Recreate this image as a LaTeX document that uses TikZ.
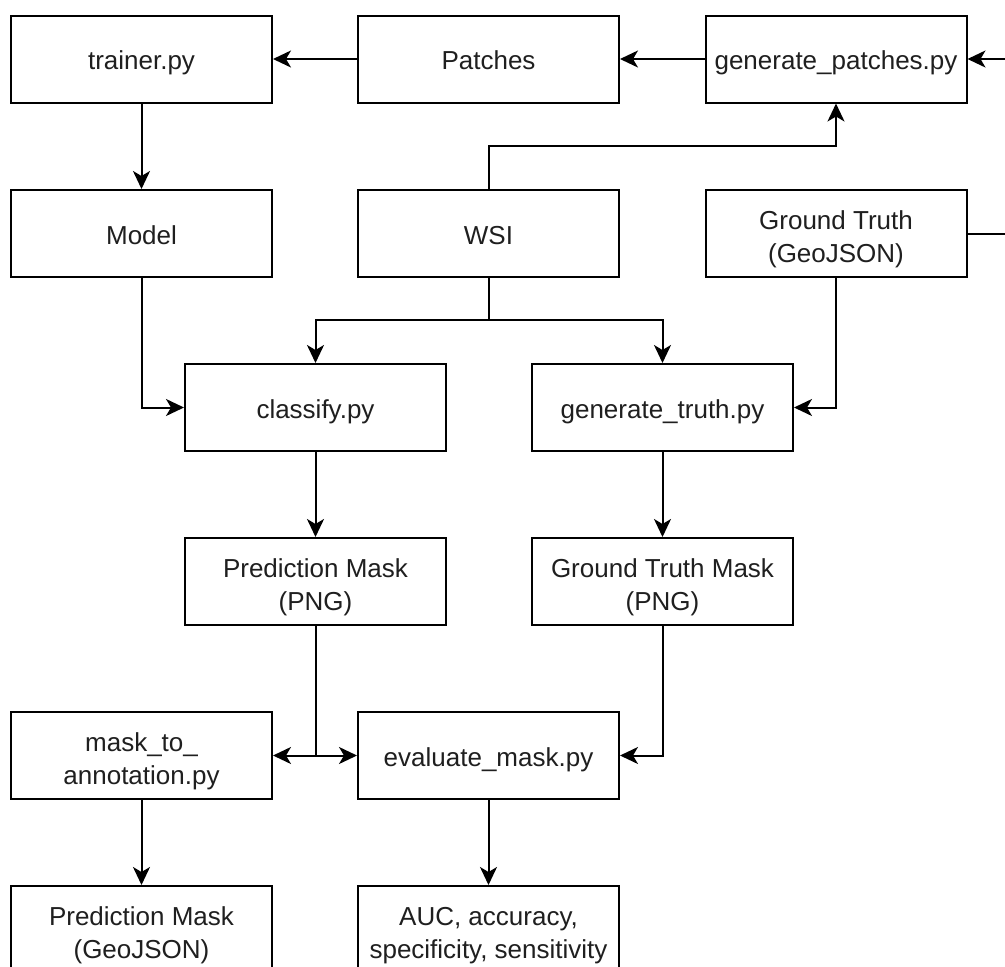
\documentclass[tikz,border=0pt]{standalone}
\usepackage{fontspec}
\setmainfont{Liberation Sans}
\usetikzlibrary{arrows.meta}
\newcommand\twoline[2]{\begin{tabular}[b]{@{}c@{}}#1\\#2\end{tabular}}
\begin{document}
\begin{tikzpicture}[x=1pt,y=-1pt,
  box/.style={draw=black,line width=2pt,fill=white,minimum width=261pt,minimum height=87pt,
    inner sep=0pt,align=center,font=\fontsize{26}{33}\selectfont,text=black!88,
    text height=21pt,text depth=0pt},
  tbox/.style={box,text height=57pt,text depth=0pt},
  arr/.style={line width=2pt,-{Stealth[length=18pt,width=17pt,inset=5pt]}},
  ln/.style={line width=2pt}]
\useasboundingbox (0,0) rectangle (1005,967);
\node[box] (trainer) at (141.5,59) {trainer.py};
\node[box] (patches) at (488.5,59) {Patches};
\node[box] (genp) at (836,59) {generate\_patches.py};
\node[box] (model) at (141.5,233.5) {Model};
\node[box] (wsi) at (488.5,233.5) {WSI};
\node[tbox] (gt) at (836,233.5) {\twoline{Ground Truth}{(GeoJSON)}};
\node[box] (classify) at (315.5,407.5) {classify.py};
\node[box] (gent) at (662.5,407.5) {generate\_truth.py};
\node[tbox] (pmask) at (315.5,581.5) {\twoline{Prediction Mask}{(PNG)}};
\node[tbox] (gtmask) at (662.5,581.5) {\twoline{Ground Truth Mask}{(PNG)}};
\node[tbox] (m2a) at (141.5,755.5) {\twoline{mask\_to\_}{annotation.py}};
\node[box] (eval) at (488.5,755.5) {evaluate\_mask.py};
\node[tbox] (pgeo) at (141.5,929.5) {\twoline{Prediction Mask}{(GeoJSON)}};
\node[tbox] (auc) at (488.5,929.5) {\twoline{AUC, accuracy,}{specificity, sensitivity}};
\coordinate (rin) at (1010,59);
\coordinate (rout) at (1010,233.5);
\coordinate (wsiup) at (488.5,146);
\coordinate (wsidn) at (488.5,320);
\coordinate (junc) at (315.5,755.5);
\draw[arr] (patches.west) -- (trainer.east);
\draw[arr] (genp.west) -- (patches.east);
\draw[arr] (rin) -- (genp.east);
\draw[ln] (gt.east) -- (rout);
\draw[arr] (trainer.south) -- (model.north);
\draw[arr] (wsi.north) -- (wsiup) -| (genp.south);
\draw[ln] (wsi.south) -- (wsidn);
\draw[arr] (wsidn) -| (classify.north);
\draw[arr] (wsidn) -| (gent.north);
\draw[arr] (model.south) |- (classify.west);
\draw[arr] (gt.south) |- (gent.east);
\draw[arr] (classify.south) -- (pmask.north);
\draw[arr] (gent.south) -- (gtmask.north);
\draw[ln] (pmask.south) -- (junc);
\draw[arr] (junc) -- (m2a.east);
\draw[arr] (junc) -- (eval.west);
\draw[arr] (gtmask.south) |- (eval.east);
\draw[arr] (m2a.south) -- (pgeo.north);
\draw[arr] (eval.south) -- (auc.north);
\end{tikzpicture}
\end{document}
